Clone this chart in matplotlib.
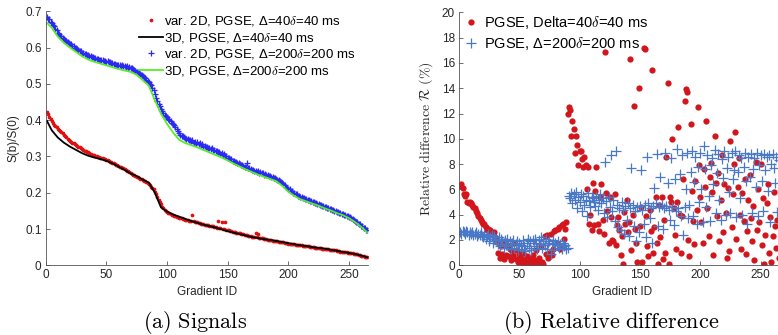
import numpy as np
import matplotlib
matplotlib.use("Agg")
from matplotlib import pyplot as plt

plt.rcParams['font.family'] = ['Liberation Sans', 'DejaVu Sans']
plt.rcParams['mathtext.fontset'] = 'cm'

# (a) signals, sorted gradients
var2d_40 = [
    0.422, 0.416, 0.410, 0.404, 0.397, 0.391, 0.388, 0.384, 0.380, 0.377,
    0.374, 0.370, 0.367, 0.364, 0.360, 0.357, 0.353, 0.349, 0.346, 0.343,
    0.340, 0.338, 0.336, 0.333, 0.331, 0.329, 0.327, 0.325, 0.322, 0.320,
    0.318, 0.316, 0.314, 0.313, 0.311, 0.309, 0.307, 0.305, 0.304, 0.303,
    0.302, 0.300, 0.299, 0.298, 0.297, 0.296, 0.295, 0.293, 0.292, 0.290,
    0.289, 0.287, 0.286, 0.284, 0.283, 0.281, 0.279, 0.277, 0.276, 0.274,
    0.272, 0.270, 0.269, 0.267, 0.265, 0.263, 0.261, 0.259, 0.257, 0.254,
    0.252, 0.250, 0.248, 0.246, 0.244, 0.242, 0.240, 0.239, 0.237, 0.235,
    0.233, 0.231, 0.229, 0.226, 0.223, 0.220, 0.217, 0.214, 0.209, 0.203,
    0.196, 0.188, 0.180, 0.174, 0.168, 0.162, 0.157, 0.153, 0.150, 0.147,
    0.145, 0.143, 0.142, 0.140, 0.139, 0.137, 0.136, 0.134, 0.133, 0.131,
    0.130, 0.129, 0.128, 0.127, 0.126, 0.125, 0.124, 0.123, 0.123, 0.122,
    0.138, 0.121, 0.120, 0.119, 0.118, 0.117, 0.116, 0.115, 0.114, 0.113,
    0.112, 0.111, 0.111, 0.110, 0.109, 0.108, 0.107, 0.107, 0.106, 0.105,
    0.104, 0.123, 0.103, 0.102, 0.120, 0.101, 0.100, 0.118, 0.098, 0.097,
    0.096, 0.095, 0.094, 0.093, 0.092, 0.091, 0.090, 0.089, 0.088, 0.088,
    0.087, 0.086, 0.085, 0.084, 0.083, 0.083, 0.082, 0.081, 0.080, 0.079,
    0.079, 0.078, 0.088, 0.077, 0.085, 0.076, 0.075, 0.074, 0.074, 0.073,
    0.072, 0.072, 0.071, 0.070, 0.070, 0.069, 0.068, 0.068, 0.067, 0.066,
    0.066, 0.065, 0.065, 0.064, 0.063, 0.063, 0.062, 0.062, 0.061, 0.060,
    0.060, 0.059, 0.059, 0.058, 0.058, 0.057, 0.057, 0.056, 0.056, 0.055,
    0.055, 0.054, 0.054, 0.053, 0.053, 0.052, 0.052, 0.051, 0.051, 0.050,
    0.050, 0.049, 0.049, 0.048, 0.048, 0.047, 0.047, 0.046, 0.046, 0.045,
    0.045, 0.044, 0.044, 0.043, 0.043, 0.042, 0.042, 0.041, 0.041, 0.040,
    0.039, 0.039, 0.038, 0.038, 0.037, 0.037, 0.036, 0.036, 0.035, 0.034,
    0.034, 0.033, 0.033, 0.032, 0.031, 0.031, 0.030, 0.029, 0.028, 0.027,
    0.026, 0.025, 0.024, 0.023, 0.022,
]
var2d_200 = [
    0.684, 0.679, 0.678, 0.670, 0.669, 0.661, 0.659, 0.650, 0.648, 0.640,
    0.637, 0.632, 0.631, 0.626, 0.625, 0.620, 0.619, 0.615, 0.614, 0.610,
    0.610, 0.604, 0.604, 0.599, 0.599, 0.595, 0.594, 0.590, 0.590, 0.586,
    0.585, 0.582, 0.583, 0.579, 0.579, 0.576, 0.577, 0.574, 0.574, 0.571,
    0.572, 0.569, 0.569, 0.567, 0.567, 0.565, 0.566, 0.563, 0.563, 0.561,
    0.562, 0.559, 0.560, 0.557, 0.557, 0.555, 0.556, 0.553, 0.553, 0.551,
    0.552, 0.550, 0.551, 0.548, 0.549, 0.547, 0.548, 0.545, 0.546, 0.544,
    0.543, 0.541, 0.539, 0.536, 0.534, 0.532, 0.530, 0.527, 0.524, 0.521,
    0.518, 0.515, 0.512, 0.508, 0.505, 0.500, 0.496, 0.490, 0.482, 0.472,
    0.462, 0.452, 0.444, 0.438, 0.432, 0.426, 0.420, 0.415, 0.411, 0.408,
    0.404, 0.400, 0.397, 0.393, 0.390, 0.386, 0.382, 0.376, 0.370, 0.364,
    0.360, 0.357, 0.355, 0.353, 0.351, 0.349, 0.348, 0.346, 0.345, 0.343,
    0.344, 0.338, 0.341, 0.335, 0.339, 0.333, 0.336, 0.331, 0.334, 0.327,
    0.329, 0.325, 0.327, 0.322, 0.324, 0.320, 0.322, 0.318, 0.319, 0.316,
    0.316, 0.311, 0.313, 0.308, 0.309, 0.305, 0.306, 0.301, 0.302, 0.297,
    0.296, 0.293, 0.294, 0.288, 0.287, 0.285, 0.286, 0.281, 0.282, 0.278,
    0.277, 0.276, 0.274, 0.272, 0.271, 0.283, 0.268, 0.267, 0.265, 0.264,
    0.264, 0.261, 0.261, 0.258, 0.259, 0.255, 0.256, 0.253, 0.254, 0.250,
    0.251, 0.248, 0.248, 0.245, 0.246, 0.242, 0.243, 0.240, 0.241, 0.237,
    0.236, 0.234, 0.232, 0.229, 0.226, 0.223, 0.220, 0.217, 0.214, 0.211,
    0.209, 0.204, 0.204, 0.200, 0.200, 0.196, 0.196, 0.192, 0.192, 0.188,
    0.189, 0.185, 0.186, 0.183, 0.183, 0.180, 0.181, 0.177, 0.178, 0.175,
    0.175, 0.172, 0.172, 0.169, 0.170, 0.166, 0.167, 0.164, 0.164, 0.161,
    0.161, 0.158, 0.159, 0.155, 0.156, 0.153, 0.153, 0.150, 0.151, 0.147,
    0.148, 0.144, 0.145, 0.142, 0.142, 0.139, 0.140, 0.136, 0.137, 0.133,
    0.133, 0.129, 0.128, 0.124, 0.123, 0.118, 0.118, 0.114, 0.113, 0.109,
    0.108, 0.103, 0.102, 0.097, 0.096,
]
line_ids = [1, 5, 10, 15, 20, 25, 30, 35, 40, 45, 50, 55, 60, 65, 70, 75, 80, 85, 90,
            95, 100, 105, 110, 115, 120, 125, 130, 135, 140, 145, 150, 155, 160, 165,
            170, 175, 180, 185, 190, 195, 200, 205, 210, 215, 220, 225, 230, 235, 240,
            245, 250, 255, 260, 265]
full3d_40 = [0.398, 0.372, 0.352, 0.338, 0.327, 0.318, 0.309, 0.302, 0.297, 0.293,
             0.288, 0.281, 0.272, 0.263, 0.253, 0.246, 0.236, 0.228, 0.200, 0.160,
             0.148, 0.140, 0.134, 0.128, 0.122, 0.117, 0.112, 0.108, 0.104, 0.099,
             0.094, 0.090, 0.086, 0.082, 0.078, 0.075, 0.072, 0.070, 0.067, 0.064,
             0.061, 0.058, 0.055, 0.053, 0.050, 0.048, 0.046, 0.043, 0.040, 0.037,
             0.034, 0.031, 0.027, 0.022]
full3d_200 = [0.668, 0.655, 0.630, 0.613, 0.600, 0.588, 0.576, 0.567, 0.561, 0.556,
              0.551, 0.546, 0.541, 0.537, 0.533, 0.525, 0.510, 0.495, 0.455, 0.418,
              0.390, 0.366, 0.346, 0.337, 0.331, 0.325, 0.318, 0.311, 0.304, 0.297,
              0.289, 0.280, 0.272, 0.264, 0.257, 0.250, 0.244, 0.238, 0.232, 0.219,
              0.203, 0.191, 0.182, 0.176, 0.170, 0.164, 0.157, 0.151, 0.144, 0.138,
              0.130, 0.119, 0.106, 0.091]

# (b) relative difference per gradient (%)
rel_40 = [
    6.3, 6.4, 6.1, 5.6, 5.5, 5.6, 5.0, 4.9, 5.0, 4.9,
    4.8, 4.6, 4.5, 4.3, 4.1, 3.9, 3.7, 3.6, 3.4, 3.3,
    3.3, 3.0, 2.8, 2.9, 2.6, 2.8, 2.5, 2.4, 2.6, 2.2,
    2.0, 1.0, 1.8, 0.6, 1.5, 0.9, 0.5, 1.9, 0.8, 1.6,
    0.7, 1.3, 0.4, 1.1, 0.8, 1.8, 0.5, 1.2, 0.3, 0.9,
    0.6, 0.2, 1.0, 0.4, 0.1, 0.7, 0.3, 0.0, 0.5, 0.2,
    0.8, 0.1, 0.4, 1.2, 0.2, 0.6, 0.1, 1.5, 0.3, 0.1,
    2.3, 0.9, 2.4, 0.6, 1.0, 2.5, 0.8, 1.3, 2.7, 2.8,
    1.8, 2.9, 3.0, 1.3, 3.2, 3.3, 2.1, 2.9, 3.4, 12.0,
    12.5, 12.3, 10.2, 11.4, 10.8, 8.9, 10.2, 9.5, 7.9, 9.0,
    9.0, 8.4, 7.8, 8.6, 7.9, 6.0, 7.8, 3.3, 4.0, 2.8,
    6.5, 3.2, 5.9, 7.8, 3.3, 2.7, 5.4, 6.4, 3.6, 2.5,
    16.9, 5.7, 4.3, 1.8, 5.4, 3.8, 2.0, 1.9, 5.6, 1.6,
    3.2, 3.8, 2.8, 0.8, 2.3, 0.1, 4.2, 3.3, 5.2, 2.6,
    3.4, 16.3, 1.2, 4.0, 12.6, 2.9, 1.8, 0.3, 14.0, 3.1,
    4.6, 0.3, 17.2, 17.1, 3.9, 1.5, 0.7, 4.4, 2.7, 15.4,
    1.0, 3.0, 5.4, 1.8, 0.1, 4.8, 2.2, 5.4, 0.5, 3.6,
    1.0, 8.6, 14.4, 0.1, 5.4, 5.0, 10.0, 4.5, 2.4, 1.3,
    5.0, 10.9, 4.0, 1.0, 3.9, 6.8, 13.0, 13.9, 13.7, 2.0,
    0.7, 11.2, 5.9, 3.5, 1.7, 6.7, 4.4, 12.5, 7.9, 5.4,
    3.4, 1.8, 7.6, 6.2, 11.4, 4.5, 2.3, 7.0, 8.1, 5.8,
    0.8, 10.2, 6.5, 3.9, 7.3, 1.9, 5.2, 8.7, 2.6, 6.4,
    4.1, 0.6, 6.1, 1.1, 9.8, 3.0, 5.6, 8.0, 10.5, 2.1,
    6.2, 8.5, 4.0, 1.3, 5.7, 3.5, 6.8, 0.9, 2.7, 5.2,
    7.1, 3.7, 1.9, 4.7, 0.4, 8.2, 2.8, 6.0, 3.4, 8.0,
    1.6, 5.3, 0.1, 2.4, 4.9, 6.4, 1.0, 3.8, 0.3, 2.3,
    5.8, 3.1, 1.4, 3.6, 0.6,
]
rel_200 = [
    2.6, 2.5, 2.7, 2.6, 2.5, 2.7, 2.6, 2.4, 2.6, 2.5,
    2.6, 2.4, 2.5, 2.6, 2.3, 2.5, 2.4, 2.6, 2.3, 2.2,
    2.4, 2.1, 2.3, 2.5, 1.9, 2.2, 2.4, 1.8, 2.3, 2.1,
    2.0, 1.7, 2.2, 1.5, 2.1, 1.9, 1.4, 2.0, 1.6, 2.1,
    1.5, 1.9, 1.3, 1.8, 2.0, 1.4, 1.7, 1.9, 1.2, 1.8,
    1.6, 1.3, 2.0, 1.5, 1.1, 1.8, 2.1, 1.4, 1.9, 1.2,
    2.0, 1.5, 2.1, 1.8, 1.3, 2.0, 1.7, 2.2, 1.4, 1.9,
    1.6, 2.1, 1.3, 1.8, 1.9, 0.9, 1.7, 2.0, 1.2, 1.8,
    1.6, 1.9, 1.4, 1.7, 1.3, 1.8, 1.5, 1.6, 1.3, 1.4,
    5.5, 5.3, 5.7, 4.9, 5.6, 5.2, 5.8, 4.5, 5.4, 5.0,
    5.6, 4.3, 5.5, 4.8, 5.2, 3.9, 5.7, 5.1, 4.6, 5.4,
    5.3, 5.0, 4.7, 5.5, 4.4, 5.2, 5.6, 4.9, 5.3, 4.1,
    8.2, 5.1, 3.8, 5.4, 4.6, 8.7, 4.3, 5.2, 3.5, 9.0,
    4.8, 3.0, 4.5, 2.8, 5.0, 4.4, 2.5, 4.7, 3.6, 4.9,
    2.3, 4.5, 7.7, 4.8, 3.1, 4.3, 1.9, 4.6, 2.6, 4.7,
    7.5, 4.4, 3.3, 4.8, 2.2, 8.6, 4.9, 3.7, 4.5, 1.8,
    4.7, 6.1, 4.9, 8.8, 3.1, 4.6, 7.0, 4.8, 2.9, 4.5,
    8.9, 4.7, 6.5, 4.4, 3.6, 8.5, 4.6, 3.2, 6.8, 4.3,
    9.2, 4.5, 7.2, 3.9, 8.7, 2.4, 4.6, 6.0, 8.9, 3.7,
    4.8, 7.4, 9.0, 3.9, 6.6, 8.6, 3.3, 7.8, 5.0, 8.9,
    6.0, 3.4, 9.4, 7.6, 4.6, 8.7, 5.5, 3.5, 7.9, 8.5,
    6.4, 9.1, 4.1, 7.3, 8.8, 5.2, 3.6, 8.4, 6.9, 9.0,
    4.0, 7.7, 8.6, 5.8, 4.1, 8.9, 6.8, 7.5, 9.0, 3.8,
    7.4, 8.7, 5.3, 8.5, 4.0, 7.8, 8.9, 6.7, 3.3, 8.6,
    7.0, 8.8, 4.1, 7.6, 8.5, 6.2, 8.9, 3.9, 7.9, 8.7,
    6.7, 4.3, 8.8, 7.5, 8.6, 5.9, 8.7, 3.4, 8.0, 8.8,
    7.7, 6.5, 8.6, 4.2, 8.3,
]

ids_a = np.arange(1, len(var2d_40) + 1)
ids_b = np.arange(1, len(rel_40) + 1)

W, H = 778, 335
fig = plt.figure(figsize=(W / 100, H / 100), dpi=100)

txt = '#262626'
spine = '#555555'

def style(ax):
    for s in ['top', 'right']:
        ax.spines[s].set_visible(False)
    for s in ['left', 'bottom']:
        ax.spines[s].set_color(spine)
        ax.spines[s].set_linewidth(0.6)
    ax.tick_params(direction='in', length=3, width=0.6, colors=spine,
                   labelcolor=txt, labelsize=8.5, pad=3)

# left panel
ax1 = fig.add_axes([45.7 / W, 69.7 / H, 266 * 1.213 / W, 254 / H])
ax1.plot(ids_a, var2d_40, '.', color='#e01010', ms=3.3,
         label='var. 2D, PGSE, Δ=40$\\delta$=40 ms')
ax1.plot(line_ids, full3d_40, '-', color='black', lw=1.3,
         label='3D, PGSE, Δ=40$\\delta$=40 ms')
ax1.plot(ids_a, var2d_200, '+', color='#2a2af2', ms=4.8, mew=0.9,
         label='var. 2D, PGSE, Δ=200$\\delta$=200 ms')
ax1.plot(line_ids, full3d_200, '-', color='#55ee22', lw=1.3,
         label='3D, PGSE, Δ=200$\\delta$=200 ms')
ax1.set_xlim(0, 266)
ax1.set_ylim(0, 0.7)
ax1.set_xticks([0, 50, 100, 150, 200, 250])
ax1.set_yticks(np.arange(0, 0.71, 0.1))
ax1.set_yticklabels(['0', '0.1', '0.2', '0.3', '0.4', '0.5', '0.6', '0.7'])
style(ax1)
ax1.set_xlabel('Gradient ID', fontsize=8.5, color=txt, labelpad=3)
ax1.set_ylabel('S(b)/S(0)', fontsize=8.5, color=txt, labelpad=4)
ax1.legend(loc='upper left', bbox_to_anchor=(139 / W, 1 - 14 / H),
           bbox_transform=fig.transFigure, frameon=False, fontsize=9.5,
           handlelength=1.8, handletextpad=0.1, labelspacing=0.2,
           borderpad=0, borderaxespad=0)

# right panel (axis runs past the right edge of the figure)
ax2 = fig.add_axes([459 / W, 69.7 / H, 270 * 1.206 / W, 253 / H])
ax2.plot(ids_b, rel_40, 'o', color='#d2161c', ms=4.5, mew=0,
         label='PGSE, Delta=40$\\delta$=40 ms')
ax2.plot(ids_b, rel_200, '+', color='#4a78c8', ms=7, mew=0.9,
         label='PGSE, Δ=200$\\delta$=200 ms')
ax2.set_xlim(0, 270)
ax2.set_ylim(0, 20)
ax2.set_xticks([0, 50, 100, 150, 200, 250])
ax2.set_yticks(np.arange(0, 21, 2))
style(ax2)
ax2.set_xlabel('Gradient ID', fontsize=8.5, color=txt, labelpad=3)
ax2.set_ylabel('$\\mathrm{Relative\\ difference}\\ \\mathcal{R}\\ \\mathrm{(\\%)}$',
               fontsize=10, color=txt, labelpad=5)
ax2.legend(loc='upper left', bbox_to_anchor=(462 / W, 1 - 14 / H),
           bbox_transform=fig.transFigure, frameon=False, fontsize=10.5,
           handlelength=1.2, handletextpad=0.3, labelspacing=0.25,
           borderpad=0, borderaxespad=0)

fig.text(195 / W, 1 - 322 / H, '$\\mathrm{(a)\\ Signals}$', fontsize=16,
         ha='center', va='center', color='black')
fig.text(611 / W, 1 - 322 / H, '$\\mathrm{(b)\\ Relative\\ difference}$', fontsize=16,
         ha='center', va='center', color='black')

fig.savefig('out.png', dpi=100)
